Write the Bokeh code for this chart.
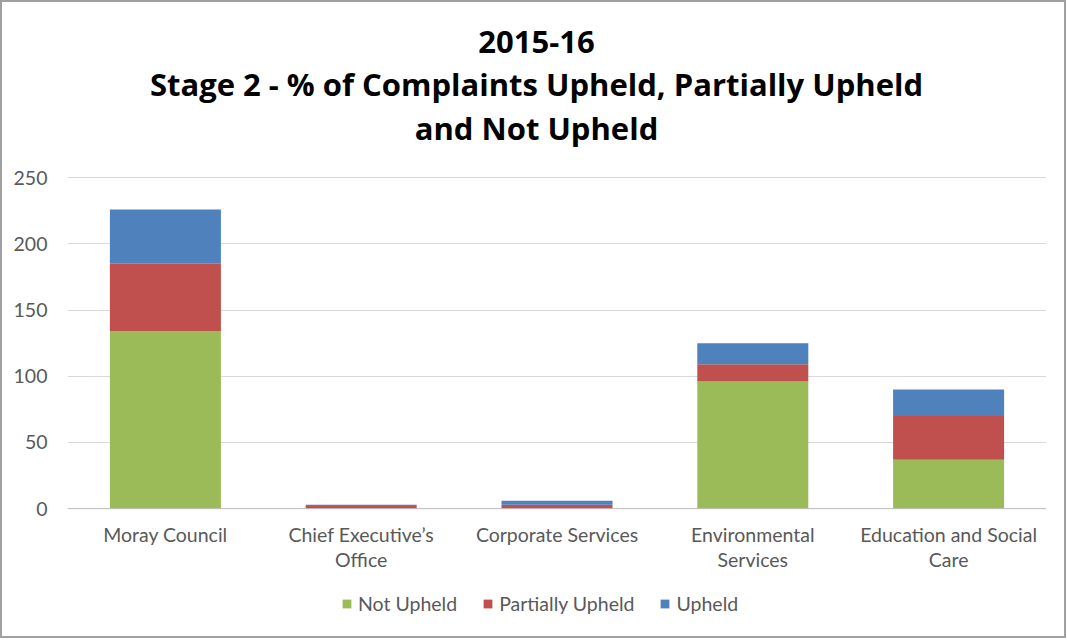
from bokeh.plotting import figure
from bokeh.models import (Range1d, FactorRange, Label, Legend, LegendItem, ColumnDataSource,
                          FixedTicker, Span)
from bokeh.core.properties import value
from bokeh.embed import file_html
from bokeh.resources import INLINE

categories = ["Moray Council", "Chief Executive\u2019s Office", "Corporate Services",
              "Environmental Services", "Education and Social Care"]
tick_labels = ["Moray Council", "Chief Executive\u2019s\nOffice", "Corporate Services",
               "Environmental\nServices", "Education and Social\nCare"]
not_upheld = [134, 0, 0, 96, 37]
partially_upheld = [51, 2, 3, 13, 33]
upheld = [41, 1, 3, 16, 20]
series = ["Not Upheld", "Partially Upheld", "Upheld"]
colors = ["#9BBB59", "#C0504D", "#4F81BD"]
y_ticks = [0, 50, 100, 150, 200, 250]
title_lines = ["2015-16", "Stage 2 - % of Complaints Upheld, Partially Upheld", "and Not Upheld"]

FONT = "Lato"
TITLE_FONT = "Open Sans"
GREY = "#595959"

src = ColumnDataSource(dict(cat=categories, lab=tick_labels,
                            **{"Not Upheld": not_upheld, "Partially Upheld": partially_upheld,
                               "Upheld": upheld}))

# pixel geometry: value axis 0 -> 503px, 250 -> 174px inside a 634px high frame
px_per_unit = 329 / 250
y_lo = -(634 - 503) / px_per_unit
y_hi = 503 / px_per_unit

p = figure(width=1066, height=638, x_range=FactorRange(*categories), y_range=Range1d(y_lo, y_hi),
           output_backend="svg", toolbar_location=None,
           min_border_left=65, min_border_right=22, min_border_top=0, min_border_bottom=0)
p.outline_line_color = None
p.background_fill_color = "white"
p.border_fill_color = "white"
p.styles = {"border": "2px solid #a0a0a0", "box-sizing": "border-box"}

renderers = p.vbar_stack(series, x="cat", width=0.567, source=src, color=colors, line_color=None)

p.xgrid.grid_line_color = None
p.ygrid.grid_line_color = "#D9D9D9"
p.ygrid.grid_line_width = 1
p.ygrid.ticker = FixedTicker(ticks=y_ticks)
p.yaxis.ticker = FixedTicker(ticks=y_ticks)
p.yaxis.axis_line_color = None
p.yaxis.major_tick_line_color = None
p.yaxis.minor_tick_line_color = None
p.yaxis.major_tick_out = 0
p.yaxis.major_tick_in = 0
p.yaxis.major_label_standoff = 20
p.yaxis.major_label_text_font = FONT
p.yaxis.major_label_text_font_size = "19.5px"
p.yaxis.major_label_text_color = GREY
p.xaxis.visible = False

p.add_layout(Span(location=0, dimension="width", line_color="#BFBFBF", line_width=1))

p.text(x="cat", y=0, text="lab", source=src, y_offset=14, text_align="center",
       text_baseline="top", text_font=value(FONT), text_font_size="19.5px",
       text_color=GREY, text_line_height=1.08)

title_y = [599, 557, 513]
for line, ty in zip(title_lines, title_y):
    p.add_layout(Label(x=469, y=ty, x_units="screen", y_units="screen", text=line,
                       text_align="center", text_baseline="middle", text_font=TITLE_FONT,
                       text_font_size="31px", text_font_style="bold", text_color="#000000"))

legend = Legend(items=[LegendItem(label=s, renderers=[r]) for s, r in zip(series, renderers)],
                orientation="horizontal", location=(274, 25),
                glyph_width=11, glyph_height=11, label_text_font=FONT,
                label_text_font_size="19.5px", label_text_color=GREY,
                spacing=25, label_standoff=6, border_line_color=None,
                background_fill_alpha=0, margin=0, padding=4)
p.add_layout(legend, "center")

open("out.html", "w").write(file_html(p, INLINE))
